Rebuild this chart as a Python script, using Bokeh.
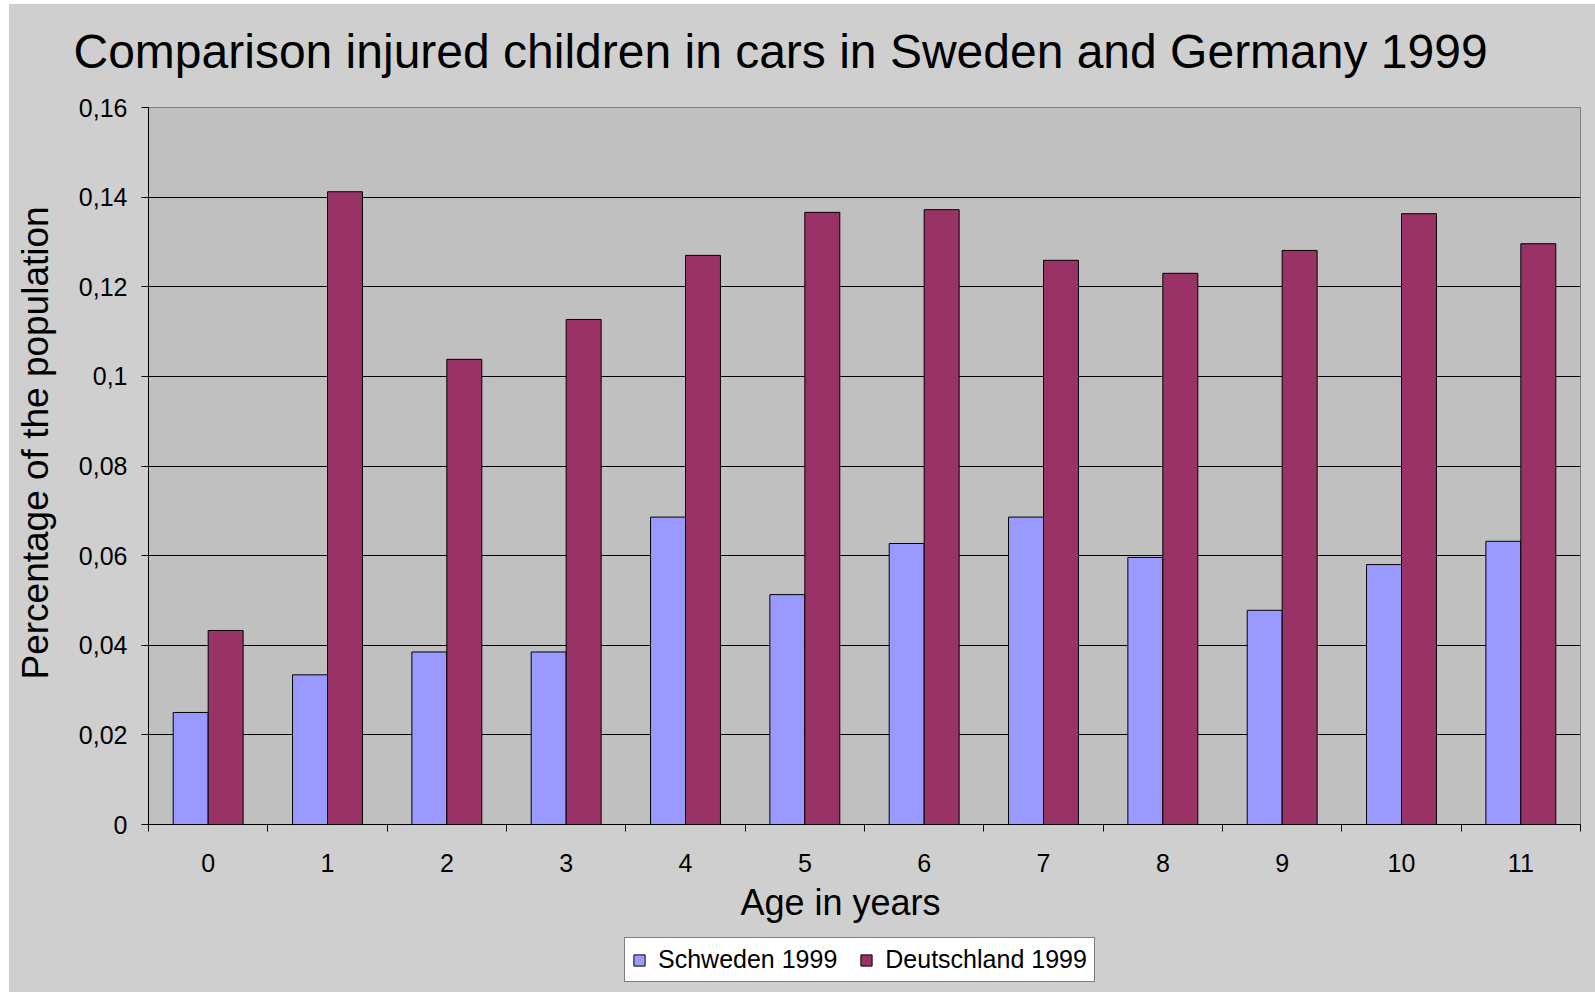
from bokeh.plotting import figure
from bokeh.models import (FixedTicker, Legend, LegendItem, Title, Spacer,
                          LinearAxis, ColumnDataSource)
from bokeh.layouts import column, row
from bokeh.embed import file_html
from bokeh.resources import INLINE

# Injured children in cars, share of the population by age (1999)
ages = list(range(12))
age_labels = [str(a) for a in ages]
schweden = [0.0250, 0.0334, 0.0385, 0.0385, 0.0686, 0.0513,
            0.0627, 0.0686, 0.0596, 0.0478, 0.0580, 0.0632]
deutschland = [0.0433, 0.1412, 0.1038, 0.1127, 0.1270, 0.1366,
               0.1372, 0.1259, 0.1230, 0.1281, 0.1363, 0.1296]
y_ticks = [0.0, 0.02, 0.04, 0.06, 0.08, 0.10, 0.12, 0.14, 0.16]
y_tick_labels = ["0", "0,02", "0,04", "0,06", "0,08", "0,1", "0,12", "0,14", "0,16"]

series_names = ["Schweden 1999", "Deutschland 1999"]
series_colors = ["#9999FF", "#993366"]

FONT = "Liberation Sans"
BG = "#CFCFCF"
BAR_W = 0.293

p = figure(width=1586, height=930,
           x_range=(-0.5, 11.5), y_range=(0, 0.16),
           output_backend="svg", toolbar_location=None,
           min_border_left=139, min_border_right=15,
           min_border_top=103, min_border_bottom=110)
p.title_location = None

p.background_fill_color = "#C0C0C0"
p.border_fill_color = BG
p.outline_line_color = "#808080"
p.outline_line_width = 1

# Bars: Swedish series left of the category centre, German series right
src_s = ColumnDataSource(dict(x=[a - BAR_W / 2 for a in ages], top=schweden))
src_d = ColumnDataSource(dict(x=[a + BAR_W / 2 for a in ages], top=deutschland))
bar_style = dict(x="x", top="top", width=BAR_W, line_color="black", line_width=1)
p.vbar(source=src_s, fill_color=series_colors[0], **bar_style)
p.vbar(source=src_d, fill_color=series_colors[1], **bar_style)

# X axis: labels at category centres, tick marks between categories
xa = p.xaxis[0]
xa.ticker = FixedTicker(ticks=ages, minor_ticks=[a - 0.5 for a in ages] + [11.5])
xa.major_label_overrides = {a: lab for a, lab in zip(ages, age_labels)}
xa.major_tick_out = 7
xa.major_tick_in = 0
xa.major_tick_line_color = None
xa.minor_tick_out = 7
xa.minor_tick_in = 0
xa.minor_tick_line_color = "black"
xa.axis_line_color = "black"
xa.major_label_text_font = FONT
xa.major_label_text_font_size = "25px"
xa.major_label_text_color = "black"
xa.major_label_standoff = 22

# Y axis
ya = p.yaxis[0]
ya.ticker = FixedTicker(ticks=y_ticks, minor_ticks=[])
ya.major_label_overrides = {t: lab for t, lab in zip(y_ticks, y_tick_labels)}
ya.major_tick_out = 7
ya.major_tick_in = 0
ya.major_tick_line_color = "black"
ya.axis_line_color = "black"
ya.major_label_text_font = FONT
ya.major_label_text_font_size = "25px"
ya.major_label_text_color = "black"
ya.major_label_standoff = 14

p.xgrid.grid_line_color = None
p.ygrid.ticker = FixedTicker(ticks=y_ticks)
p.ygrid.grid_line_color = "black"
p.ygrid.grid_line_width = 1


def gap(size, at):
    """Invisible axis whose (hidden) tick only reserves room between side panels."""
    return LinearAxis(ticker=FixedTicker(ticks=[at], minor_ticks=[]),
                      axis_line_color=None, major_tick_line_color=None,
                      minor_tick_line_color=None, major_label_text_color=None,
                      major_label_text_font_size="0px",
                      major_tick_out=size, major_tick_in=0,
                      minor_tick_out=0, minor_tick_in=0,
                      major_label_standoff=0)


def side_title(text, size, offset, valign):
    return Title(text=text, align="left", offset=offset, standoff=0,
                 vertical_align=valign, text_font=FONT, text_font_size=size,
                 text_font_style="normal", text_color="black")


# Chart title
p.add_layout(gap(30, 0), "above")
p.add_layout(side_title("Comparison injured children in cars in Sweden and Germany 1999",
                        "48px", -75, "bottom"), "above")

# Axis titles
p.add_layout(gap(20, 0.08), "left")
p.add_layout(side_title("Percentage of the population", "37px", 145, "bottom"), "left")
p.add_layout(gap(7, 0), "below")
p.add_layout(side_title("Age in years", "36px", 592, "top"), "below")

# Legend strip underneath the chart
leg = figure(width=1586, height=58, x_axis_type=None, y_axis_type=None,
             output_backend="svg", toolbar_location=None, min_border=0)
leg.title_location = None
leg.background_fill_color = None
leg.border_fill_color = BG
leg.outline_line_color = None
leg.xgrid.visible = False
leg.ygrid.visible = False
swatches = [leg.vbar(source=s, fill_color=c, visible=False, **bar_style)
            for s, c in zip([src_s, src_d], series_colors)]
legend = Legend(items=[LegendItem(label=n, renderers=[r])
                       for n, r in zip(series_names, swatches)],
                orientation="horizontal", location=(476, 10))
legend.label_text_font = FONT
legend.label_text_font_size = "25px"
legend.label_text_color = "black"
legend.glyph_width = 14
legend.glyph_height = 14
legend.label_standoff = 12
legend.spacing = 22
legend.padding = 7
legend.margin = 0
legend.border_line_color = "black"
legend.border_line_width = 1
legend.background_fill_color = "white"
legend.background_fill_alpha = 1
leg.add_layout(legend, "center")

chart = column(p, leg, spacing=0, styles={"background-color": BG})
layout = column(Spacer(height=4), row(Spacer(width=9), chart, spacing=0), spacing=0)

open("out.html", "w").write(file_html(layout, INLINE))
